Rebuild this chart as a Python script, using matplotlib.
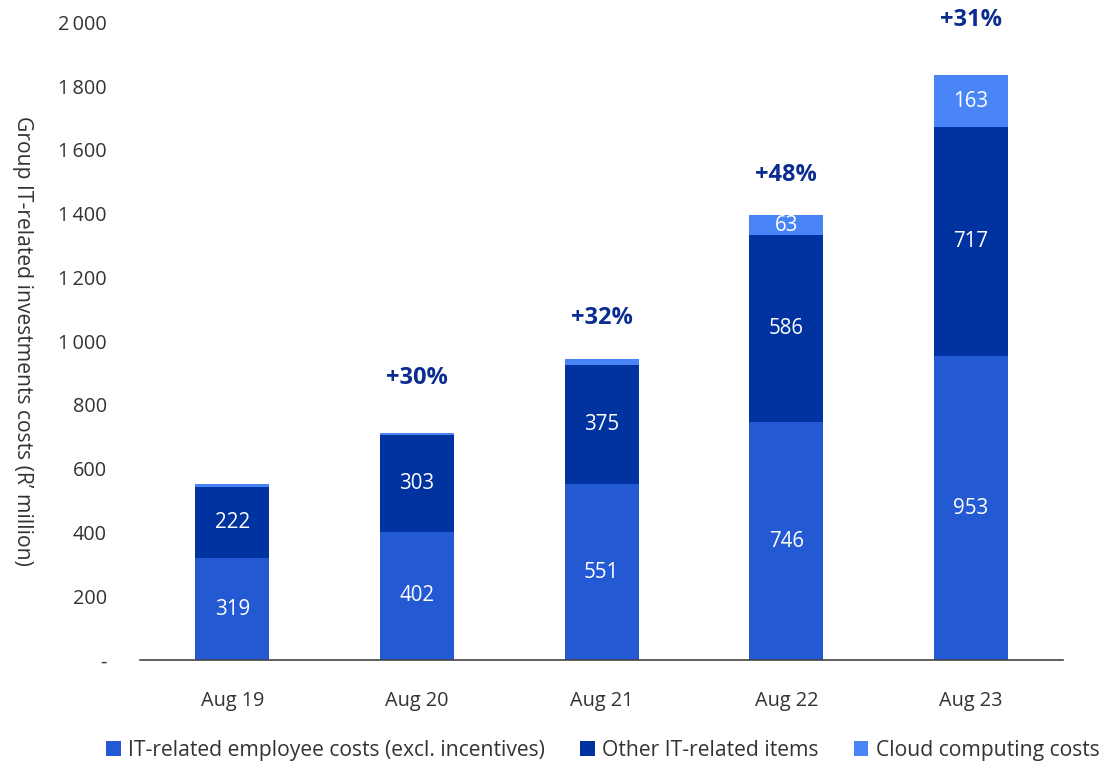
import matplotlib.pyplot as plt
import numpy as np

plt.rcParams['font.family'] = ['Open Sans', 'DejaVu Sans']

# Data (R' million)
years = ['Aug 19', 'Aug 20', 'Aug 21', 'Aug 22', 'Aug 23']
employee = [319, 402, 551, 746, 953]
other = [222, 303, 375, 586, 717]
cloud = [10, 8, 17, 63, 163]
growth = ['', '+30%', '+32%', '+48%', '+31%']
growth_y = [0, 884, 1072, 1520, 2006]
show_cloud_label = [False, False, False, True, True]

c_emp = '#2359D3'
c_oth = '#0033A0'
c_cld = '#4A85F8'
c_txt = '#333333'

fig = plt.figure(figsize=(11.03, 7.67), dpi=100)
ax = fig.add_axes([0.127, 0.1395, 0.837, 0.8315])

x = np.arange(len(years))
w = 0.4
emp = np.array(employee)
oth = np.array(other)
cld = np.array(cloud)

b1 = ax.bar(x, emp, w, color=c_emp, label='IT-related employee costs (excl. incentives)')
b2 = ax.bar(x, oth, w, bottom=emp, color=c_oth, label='Other IT-related items')
b3 = ax.bar(x, cld, w, bottom=emp + oth, color=c_cld, label='Cloud computing costs')

fs = 14.3
for i in range(len(years)):
    ax.text(x[i], emp[i] / 2, str(employee[i]), ha='center', va='center', color='white', fontsize=14.8)
    ax.text(x[i], emp[i] + oth[i] / 2, str(other[i]), ha='center', va='center', color='white', fontsize=14.8)
    if show_cloud_label[i]:
        ax.text(x[i], emp[i] + oth[i] + cld[i] / 2, str(cloud[i]), ha='center', va='center',
                color='white', fontsize=14.8)
    if growth[i]:
        ax.text(x[i], growth_y[i], growth[i], ha='center', va='center', color='#0B2D91',
                fontsize=17, fontweight='bold', clip_on=False)

ax.set_xlim(-0.5, len(years) - 0.5)
ax.set_ylim(0, 2000)
ax.set_xticks(x)
ax.set_xticklabels(years, fontsize=fs, color=c_txt)
yt = np.arange(0, 2001, 200)
ax.set_yticks(yt)
ax.set_yticklabels(['-'] + [f'{v:,}'.replace(',', '\u2009') for v in yt[1:]], fontsize=fs, color=c_txt)
ax.tick_params(length=0)
ax.tick_params(axis='x', pad=22)
ax.tick_params(axis='y', pad=24)
for s in ['top', 'right', 'left']:
    ax.spines[s].set_visible(False)
ax.spines['bottom'].set_color('#444444')
ax.spines['bottom'].set_linewidth(1.2)

fig.text(0.02, 0.556, 'Group IT-related investments costs (R\u2019 million)', rotation=-90,
         ha='center', va='center', fontsize=15.2, color=c_txt)

fig.legend(handles=[b1, b2, b3], loc='lower left', bbox_to_anchor=(0.079, -0.017), ncol=3,
           frameon=False, fontsize=15.2, handlelength=0.7, handleheight=0.7,
           handletextpad=0.35, columnspacing=1.65, labelcolor=c_txt)

plt.savefig('out.png', dpi=100)
